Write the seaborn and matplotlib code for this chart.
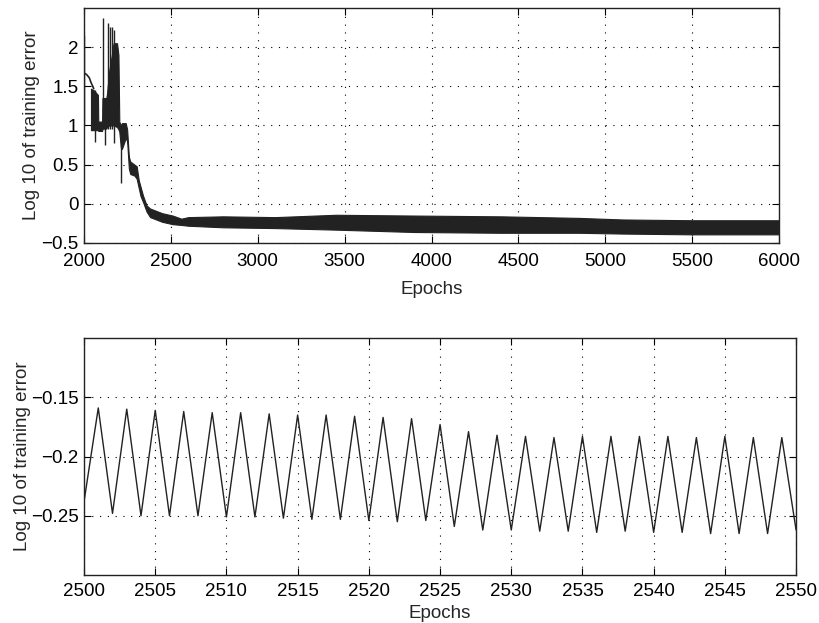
import numpy as np
import pandas as pd
import matplotlib
matplotlib.use("Agg")
import matplotlib.pyplot as plt
import seaborn as sns

# ---------------- data ----------------
# Top panel: initial smooth trace
start_epochs = [2000, 2015, 2030, 2040, 2056]
start_values = [1.67, 1.65, 1.61, 1.55, 1.47]

# Top panel: envelope of the fast oscillation (band)
band_epochs = [2040, 2056, 2080, 2082, 2104, 2106, 2128, 2132, 2145, 2160, 2170,
               2190, 2198, 2203, 2212, 2218, 2240, 2248, 2258, 2266, 2290, 2303,
               2315, 2325, 2340, 2360, 2380, 2450, 2510, 2560, 2600, 2800, 3100,
               3450, 3900, 4400, 4850, 5100, 5500, 6000]
band_upper = [1.47, 1.45, 1.39, 1.05, 1.05, 1.35, 1.35, 1.40, 1.70, 1.90, 2.05,
              2.05, 1.90, 1.05, 1.00, 1.03, 1.03, 0.95, 0.60, 0.54, 0.50, 0.48,
              0.30, 0.22, 0.10, -0.02, -0.06, -0.12, -0.15, -0.19, -0.17, -0.16, -0.17,
              -0.14, -0.15, -0.16, -0.18, -0.20, -0.21, -0.21]
band_lower = [0.94, 0.94, 0.94, 0.93, 0.93, 0.96, 0.96, 0.98, 1.00, 1.00, 1.00,
              0.98, 0.95, 0.92, 0.72, 0.70, 0.84, 0.80, 0.45, 0.38, 0.36, 0.32,
              0.20, 0.10, 0.02, -0.10, -0.17, -0.23, -0.26, -0.27, -0.28, -0.30, -0.31,
              -0.33, -0.36, -0.37, -0.37, -0.38, -0.39, -0.39]

# Top panel: isolated spikes (epoch, low, high)
spike_epochs = [2000, 2061, 2109, 2121, 2138, 2152, 2161, 2175, 2215]
spike_low = [1.00, 0.79, 0.95, 0.75, 0.95, 0.95, 0.95, 0.78, 0.26]
spike_high = [2.15, 1.45, 2.37, 1.30, 2.31, 2.26, 2.26, 2.22, 1.00]

# Bottom panel: one value per epoch, 2500..2550
zoom_epochs = list(range(2500, 2551))
zoom_values = [-0.238, -0.159, -0.248, -0.160, -0.250, -0.161, -0.250, -0.162,
               -0.250, -0.163, -0.251, -0.163, -0.251, -0.164, -0.252, -0.165,
               -0.253, -0.165, -0.253, -0.166, -0.254, -0.167, -0.255, -0.168,
               -0.254, -0.173, -0.259, -0.179, -0.262, -0.182, -0.262, -0.183,
               -0.263, -0.184, -0.263, -0.183, -0.264, -0.183, -0.263, -0.183,
               -0.264, -0.183, -0.264, -0.184, -0.265, -0.183, -0.265, -0.184,
               -0.265, -0.184, -0.262]

top_xticks = [2000, 2500, 3000, 3500, 4000, 4500, 5000, 5500, 6000]
top_yticks = [-0.5, 0, 0.5, 1, 1.5, 2]
top_yticklabels = ["\u22120.5", "0", "0.5", "1", "1.5", "2"]
bot_xticks = [2500, 2505, 2510, 2515, 2520, 2525, 2530, 2535, 2540, 2545, 2550]
bot_yticks = [-0.25, -0.2, -0.15]
bot_yticklabels = ["\u22120.25", "\u22120.2", "\u22120.15"]

xlabel = "Epochs"
ylabel = "Log 10 of training error"

# ---------------- style ----------------
sns.set_style("ticks")
plt.rcParams["font.family"] = ["Liberation Sans", "DejaVu Sans"]
FS = 13.5
plt.rcParams["font.size"] = FS

fig = plt.figure(figsize=(8.19, 6.23), dpi=100)
ax1 = fig.add_axes([0.1026, 0.6100, 0.8486, 0.3772])
ax2 = fig.add_axes([0.1026, 0.0770, 0.8694, 0.3804])

col = "#222222"

# top panel
ax1.fill_between(band_epochs, band_lower, band_upper, color=col, lw=0.8,
                 edgecolor=col, zorder=3)
ax1.vlines(spike_epochs, spike_low, spike_high, color=col, lw=1.0, zorder=3)
df_start = pd.DataFrame({"epoch": start_epochs, "value": start_values})
sns.lineplot(data=df_start, x="epoch", y="value", ax=ax1, color=col, lw=1.2,
             zorder=3)

# bottom panel
df_zoom = pd.DataFrame({"epoch": zoom_epochs, "value": zoom_values})
sns.lineplot(data=df_zoom, x="epoch", y="value", ax=ax2, color=col, lw=1.0,
             zorder=3)

def style(ax, xlim, ylim, xt, yt, ytl, xpad, xlabelpad, ylabelpad):
    ax.set_xlim(*xlim)
    ax.set_ylim(*ylim)
    ax.set_xticks(xt)
    ax.set_xticklabels([str(v) for v in xt])
    ax.set_yticks(yt)
    ax.set_yticklabels(ytl)
    ax.grid(True, linestyle=(0, (1, 6)), color="black", lw=0.8, zorder=1)
    ax.tick_params(direction="in", length=5, width=0.8, top=True, right=True,
                   labelsize=FS, colors="black")
    ax.tick_params(axis="x", pad=xpad)
    ax.tick_params(axis="y", pad=4)
    for s in ax.spines.values():
        s.set_visible(True)
        s.set_color(col)
        s.set_linewidth(1.0)
    ax.set_xlabel(xlabel, fontsize=FS, labelpad=xlabelpad)
    ax.set_ylabel(ylabel, fontsize=FS, labelpad=ylabelpad)

style(ax1, (2000, 6000), (-0.5, 2.5), top_xticks, top_yticks, top_yticklabels, 7, 8, 1)
style(ax2, (2500, 2550), (-0.3, -0.1), bot_xticks, bot_yticks, bot_yticklabels, 6, 3, 0)

fig.savefig("out.png", dpi=100, facecolor="white")
